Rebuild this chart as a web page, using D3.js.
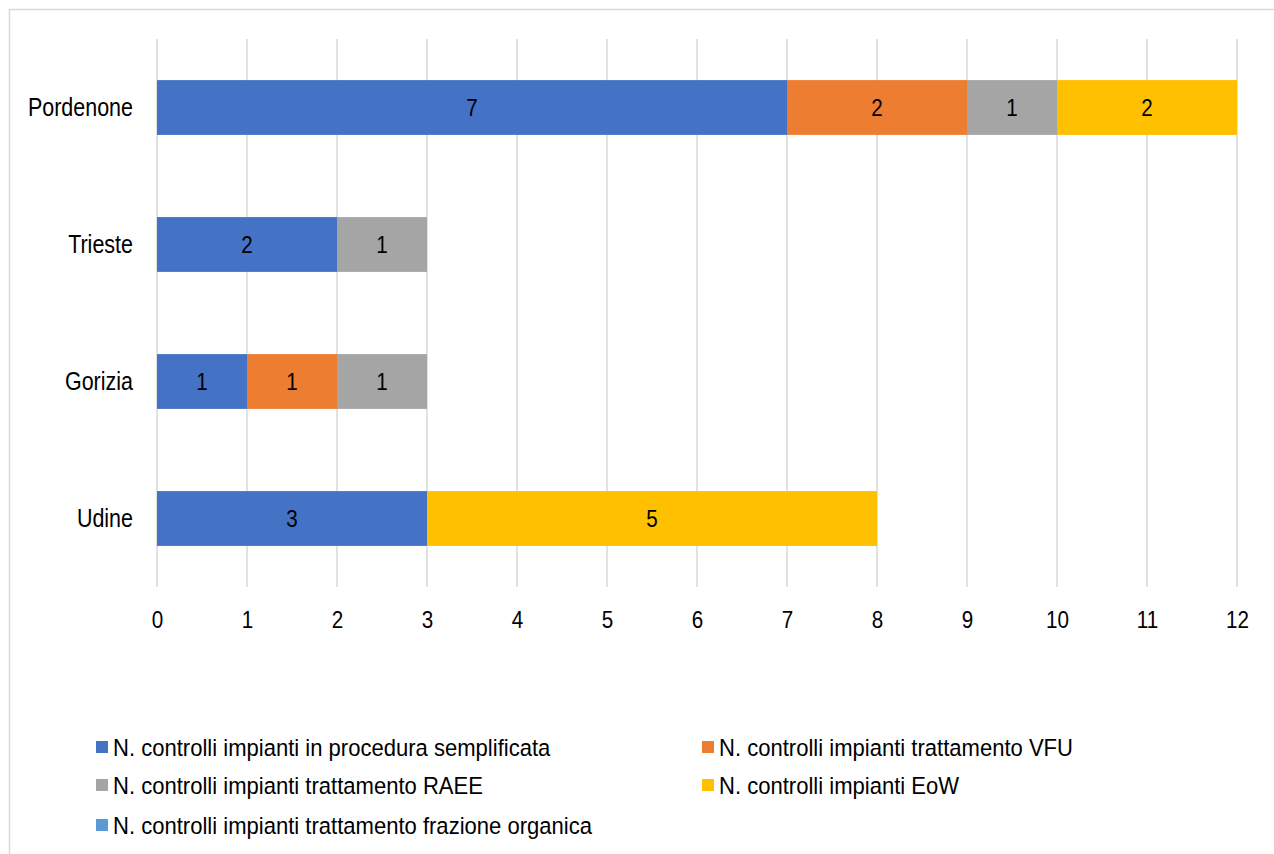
<!DOCTYPE html>
<html>
<head>
<meta charset="utf-8">
<script src="https://cdn.jsdelivr.net/npm/d3@7"></script>
<style>
  body { margin: 0; background: #fff; }
  text { font-family: "Liberation Sans", Arial, sans-serif; fill: #000; }
</style>
</head>
<body>
<div id="chart"></div>
<script>
var categories = ["Pordenone", "Trieste", "Gorizia", "Udine"];
var seriesNames = [
  "N. controlli impianti in procedura semplificata",
  "N. controlli impianti trattamento VFU",
  "N. controlli impianti trattamento RAEE",
  "N. controlli impianti EoW",
  "N. controlli impianti trattamento frazione organica"
];
var semplificata = [7, 2, 1, 3];
var vfu = [2, 0, 1, 0];
var raee = [1, 1, 1, 0];
var eow = [2, 0, 0, 5];
var organica = [0, 0, 0, 0];
var colors = ["#4472C4", "#ED7D31", "#A5A5A5", "#FFC000", "#5B9BD5"];
var xTicks = [0, 1, 2, 3, 4, 5, 6, 7, 8, 9, 10, 11, 12];

var W = 1274, H = 854;
var margin = { top: 39, left: 157, right: 37, bottom: 267 };
var width = W - margin.left - margin.right,
  height = H - margin.top - margin.bottom;
var sx = 0.86; // condensed look of the original font
var sxLegend = 0.9;

var svg = d3.select("#chart").append("svg")
  .attr("width", W).attr("height", H);

/* outer frame */
svg.append("rect")
  .attr("x", 9.5).attr("y", 9.5)
  .attr("width", W + 10).attr("height", H + 10)
  .attr("fill", "none").attr("stroke", "#d9d9d9").attr("stroke-width", 1.5);

var g = svg.append("g")
  .attr("transform", "translate(" + margin.left + "," + margin.top + ")");

var x = d3.scaleLinear().domain([0, 12]).range([0, width]);
var y = d3.scaleBand().domain(categories).range([0, height]).paddingInner(0.6).paddingOuter(0.3);

/* gridlines */
g.selectAll(".grid").data(xTicks).enter().append("line")
  .attr("x1", d => x(d)).attr("x2", d => x(d))
  .attr("y1", 0).attr("y2", height)
  .attr("stroke", "#d9d9d9").attr("stroke-width", 1.5);

/* stack */
var rows = categories.map(function(c, i) {
  return { cat: c, s0: semplificata[i], s1: vfu[i], s2: raee[i], s3: eow[i], s4: organica[i] };
});
var stack = d3.stack().keys(["s0", "s1", "s2", "s3", "s4"])(rows);

var layer = g.selectAll(".layer").data(stack).enter().append("g")
  .attr("fill", (d, i) => colors[i]);

layer.selectAll("rect").data(d => d.filter(p => p[1] - p[0] > 0)).enter().append("rect")
  .attr("x", d => x(d[0]))
  .attr("width", d => x(d[1]) - x(d[0]))
  .attr("y", d => y(d.data.cat))
  .attr("height", y.bandwidth());

layer.selectAll("text").data(d => d.filter(p => p[1] - p[0] > 0)).enter().append("text")
  .attr("transform", d => "translate(" + (x(d[0]) + x(d[1])) / 2 + "," + (y(d.data.cat) + y.bandwidth() / 2) + ") scale(" + sx + ",1)")
  .attr("dy", "0.35em")
  .attr("text-anchor", "middle")
  .style("font-size", "24px")
  .text(d => d[1] - d[0]);

/* axes */
var xAxis = g.append("g")
  .attr("transform", "translate(0," + height + ")")
  .call(d3.axisBottom(x).tickValues(xTicks).tickSize(0).tickPadding(24));
xAxis.select(".domain").remove();
xAxis.selectAll("text").style("font-size", "24px").attr("fill", "#000")
  .attr("transform", "scale(" + sx + ",1)");

var yAxis = g.append("g")
  .call(d3.axisLeft(y).tickSize(0));
yAxis.select(".domain").remove();
yAxis.selectAll("text").style("font-size", "25px").attr("fill", "#000")
  .attr("x", -24 / sx)
  .attr("transform", "scale(" + sx + ",1)");

/* legend */
var legendPos = [[96, 747], [702, 747], [96, 785], [702, 785], [96, 825]];
var legend = svg.selectAll(".legend").data(seriesNames).enter().append("g")
  .attr("transform", (d, i) => "translate(" + legendPos[i][0] + "," + legendPos[i][1] + ")");
legend.append("rect")
  .attr("x", 0).attr("y", -6).attr("width", 12).attr("height", 12)
  .attr("fill", (d, i) => colors[i]);
legend.append("text")
  .attr("transform", "translate(17,0) scale(" + sxLegend + ",1)")
  .attr("dy", "0.35em")
  .style("font-size", "24.5px")
  .text(d => d);
</script>
</body>
</html>
